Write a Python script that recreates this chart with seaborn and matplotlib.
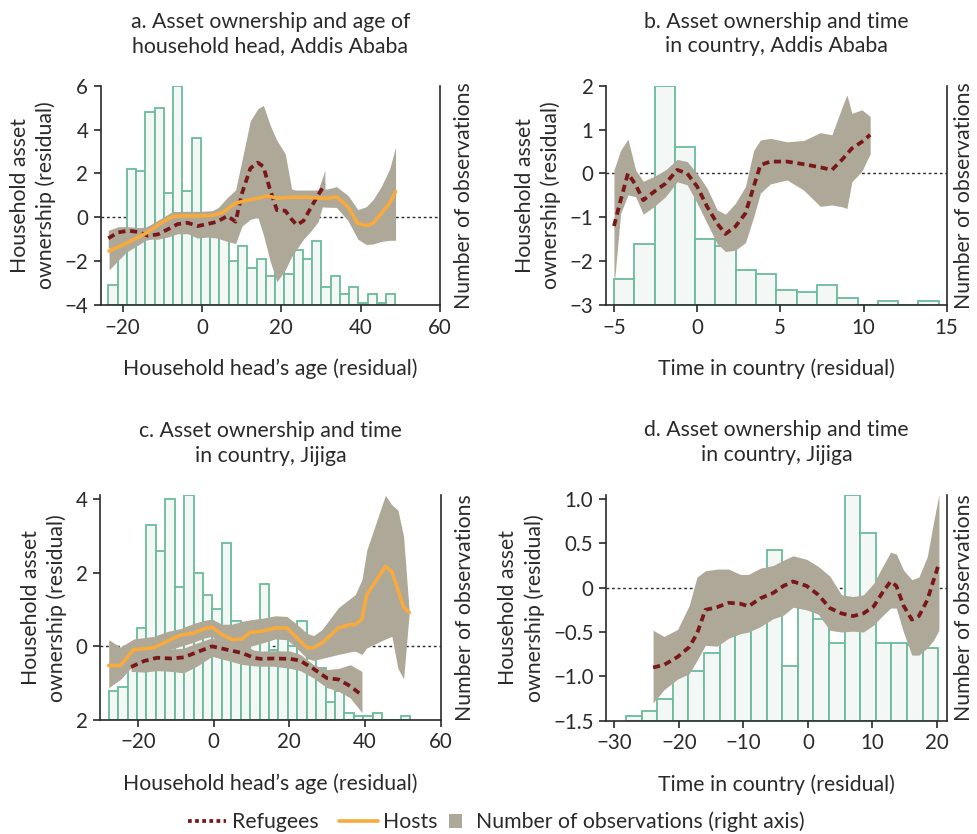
import numpy as np
import pandas as pd
import matplotlib
matplotlib.use("Agg")
import matplotlib.pyplot as plt
from matplotlib.lines import Line2D
from matplotlib.patches import Patch
import seaborn as sns

# ---------------------------------------------------------------- data
# a. Addis Ababa, household head's age
hist_a_start, hist_a_width = -23.6, 2.335
hist_a_counts = [9, 28, 62, 61, 88, 90, 51, 100, 52, 76, 35, 33, 31, 20, 27, 17,
                 21, 13, 18, 14, 25, 21, 29, 8, 13, 5, 8, 1, 5, 1, 5]
ref_a_x = [-23.6, -21.1, -18.6, -16.1, -13.6, -11.1, -8.6, -6.1, -3.6, -1.1, 1.4, 3.9,
           6.4, 8.5, 10.1, 12.2, 14.1, 15.5, 17.2, 18.9, 21.0, 22.6, 23.9, 25.6, 27.6,
           29.3, 31.0]
ref_a_y = [-0.96, -0.69, -0.61, -0.67, -0.84, -0.78, -0.55, -0.31, -0.25, -0.40, -0.31,
           -0.20, 0.06, -0.20, 1.09, 2.23, 2.49, 2.31, 1.24, 0.33, 0.30, -0.09, -0.35,
           -0.16, 0.48, 1.02, 1.50]
ref_a_hi = [-0.60, -0.43, -0.43, -0.47, -0.45, -0.30, -0.05, 0.15, 0.20, 0.15, 0.20,
            0.40, 0.90, 1.25, 2.60, 4.40, 4.95, 5.10, 4.20, 3.50, 2.90, 1.30, 1.20,
            1.20, 1.20, 1.25, 2.15]
ref_a_lo = [-1.40, -1.10, -0.95, -0.95, -1.00, -1.00, -0.90, -0.75, -0.75, -0.95, -0.90,
            -0.95, -1.10, -1.20, -0.40, -0.10, 0.00, -0.80, -2.00, -2.94, -2.40, -1.80,
            -1.45, -1.00, -0.60, -0.20, 0.90]
host_a_x = [-23.4, -19.1, -14.1, -10.7, -7.4, -4.0, -0.7, 2.7, 5.2, 8.5, 11.0, 14.0,
            16.4, 18.9, 22.6, 26.0, 29.3, 31.8, 33.9, 36.8, 39.3, 41.4, 43.1, 45.2,
            47.3, 48.8]
host_a_y = [-1.54, -1.19, -0.73, -0.31, 0.03, 0.07, 0.06, 0.09, 0.21, 0.64, 0.76, 0.86,
            0.97, 0.88, 0.91, 0.92, 0.88, 0.86, 0.94, 0.48, -0.28, -0.38, -0.28, 0.18,
            0.64, 1.17]
host_a_hi = [-0.75, -0.55, -0.45, -0.10, 0.26, 0.27, 0.27, 0.30, 0.55, 1.05, 1.20, 1.28,
             1.28, 1.24, 1.24, 1.24, 1.24, 1.30, 1.40, 1.00, 0.35, 0.48, 0.80, 1.40,
             2.20, 3.20]
host_a_lo = [-2.40, -1.60, -1.05, -0.88, -0.70, -0.66, -0.80, -0.85, -0.70, -0.40,
             -0.20, 0.25, 0.48, 0.48, 0.48, 0.48, 0.48, 0.46, 0.45, -0.15, -1.00, -1.24,
             -1.22, -1.10, -1.05, -1.05]

# b. Addis Ababa, time in country
hist_b_start, hist_b_width = -5.0, 1.22
hist_b_counts = [12, 28, 100, 72, 30, 27, 16, 14, 7, 6, 9, 3, 0, 2, 0, 2]
ref_b_x = [-5.0, -4.6, -4.16, -3.7, -3.24, -2.6, -1.9, -1.2, -0.6, 0.0, 0.6, 1.2, 1.7,
           2.3, 2.9, 3.4, 3.8, 4.4, 5.4, 6.4, 7.4, 8.1, 8.7, 9.0, 9.3, 9.9, 10.4]
ref_b_y = [-1.20, -0.61, 0.00, -0.26, -0.61, -0.42, -0.23, 0.08, 0.00, -0.30, -0.76,
           -1.14, -1.38, -1.21, -0.91, -0.30, 0.19, 0.27, 0.27, 0.21, 0.14, 0.08, 0.31,
           0.44, 0.57, 0.72, 0.88]
ref_b_hi = [0.08, 0.53, 0.78, 0.08, -0.18, -0.07, 0.08, 0.32, 0.27, 0.00, -0.34, -0.83,
            -0.93, -0.68, -0.30, 0.53, 0.76, 0.80, 0.72, 0.75, 0.93, 0.88, 1.50, 1.79,
            1.37, 1.45, 1.30]
ref_b_lo = [-2.58, -0.91, -0.49, -0.53, -0.93, -0.76, -0.53, -0.19, -0.26, -0.68, -1.14,
            -1.60, -1.78, -1.75, -1.58, -0.99, -0.45, -0.24, -0.15, -0.38, -0.75, -0.72,
            -0.76, -0.80, -0.19, 0.05, 0.45]

# c. Jijiga, household head's age
hist_c_start, hist_c_width = -27.7, 2.49
hist_c_counts = [8, 9, 18, 25, 53, 46, 60, 36, 61, 40, 34, 30, 48, 27, 23, 21, 37, 19,
                 23, 20, 27, 17, 14, 5, 8, 2, 1, 1, 2, 0, 0, 1]
ref_c_x = [-21.8, -18.4, -14.9, -11.4, -7.9, -4.4, -0.4, 3.5, 7.5, 10.6, 12.4, 15.9,
           20.3, 22.9, 26.4, 29.9, 33.0, 36.1, 39.2]
ref_c_y = [-0.56, -0.40, -0.31, -0.33, -0.30, -0.16, 0.00, -0.09, -0.18, -0.31, -0.34,
           -0.33, -0.34, -0.39, -0.61, -0.86, -0.90, -1.08, -1.33]
ref_c_hi = [-0.22, -0.13, -0.10, -0.08, -0.05, 0.09, 0.23, 0.14, 0.05, -0.10, -0.13,
            -0.12, -0.13, -0.22, -0.50, -0.63, -0.60, -0.50, -0.68]
ref_c_lo = [-0.68, -0.70, -0.66, -0.68, -0.72, -0.54, -0.27, -0.38, -0.49, -0.53, -0.54,
            -0.54, -0.60, -0.66, -0.86, -1.12, -1.22, -1.40, -1.80]
host_c_x = [-27.7, -24.6, -21.1, -15.8, -12.3, -8.8, -5.3, -2.6, -0.4, 2.2, 4.9, 7.5,
            9.7, 12.8, 16.3, 19.4, 22.0, 24.7, 26.4, 28.6, 33.0, 36.1, 37.4, 39.2, 40.5,
            45.4, 47.1, 48.7, 50.2, 51.7]
host_c_y = [-0.52, -0.52, -0.09, -0.04, 0.14, 0.30, 0.36, 0.47, 0.52, 0.32, 0.18, 0.20,
            0.38, 0.41, 0.50, 0.50, 0.23, -0.04, -0.04, 0.09, 0.50, 0.59, 0.59, 0.74,
            1.40, 2.17, 2.03, 1.54, 1.06, 0.92]
host_c_hi = [0.18, -0.02, 0.20, 0.27, 0.40, 0.48, 0.62, 0.70, 0.74, 0.60, 0.60, 0.68,
             0.72, 0.76, 0.83, 0.81, 0.60, 0.35, 0.29, 0.45, 1.05, 1.30, 1.40, 1.81,
             2.62, 4.10, 3.84, 3.70, 2.98, 0.92]
host_c_lo = [-1.12, -0.90, -0.50, -0.25, -0.12, 0.00, 0.11, 0.22, 0.27, 0.05, -0.05,
             -0.16, 0.00, 0.09, 0.20, 0.18, -0.05, -0.33, -0.38, -0.33, -0.22, -0.15,
             -0.13, -0.22, -0.04, 0.20, 0.27, -0.60, -0.88, 0.92]

# d. Jijiga, time in country
hist_d_start, hist_d_width = -28.2, 2.42
hist_d_counts = [5, 11, 25, 53, 56, 76, 95, 105, 120, 192, 62, 140, 115, 88, 255, 212,
                 88, 88, 85, 82]
ref_d_x = [-24.0, -22.3, -20.2, -18.4, -17.2, -15.9, -14.1, -12.3, -10.5, -9.2, -7.4,
           -5.4, -3.8, -2.3, -0.2, 1.6, 3.4, 5.2, 7.0, 8.6, 10.2, 11.5, 12.8, 13.7, 14.8,
           16.1, 17.2, 18.5, 19.5, 20.3]
ref_d_y = [-0.90, -0.87, -0.78, -0.67, -0.52, -0.25, -0.22, -0.17, -0.18, -0.21, -0.12,
           -0.06, 0.02, 0.07, 0.02, -0.08, -0.23, -0.29, -0.32, -0.29, -0.21, -0.06,
           0.07, 0.02, -0.20, -0.36, -0.32, -0.14, 0.09, 0.27]
ref_d_hi = [-0.48, -0.55, -0.47, -0.20, 0.12, 0.19, 0.21, 0.21, 0.15, 0.15, 0.22, 0.25,
            0.31, 0.36, 0.32, 0.24, 0.13, -0.08, -0.10, -0.08, 0.05, 0.23, 0.40, 0.38,
            0.20, 0.09, 0.12, 0.35, 0.75, 1.05]
ref_d_lo = [-1.30, -1.15, -1.03, -0.97, -0.82, -0.65, -0.66, -0.57, -0.52, -0.50, -0.44,
            -0.35, -0.31, -0.22, -0.25, -0.30, -0.48, -0.50, -0.49, -0.50, -0.42, -0.32,
            -0.23, -0.23, -0.50, -0.76, -0.76, -0.68, -0.59, -0.48]

titles = ["a. Asset ownership and age of\nhousehold head, Addis Ababa",
          "b. Asset ownership and time\nin country, Addis Ababa",
          "c. Asset ownership and time\nin country, Jijiga",
          "d. Asset ownership and time\nin country, Jijiga"]
age_label = "Household head\u2019s age (residual)"
time_label = "Time in country (residual)"
y_label = "Household asset\nownership (residual)"
count_label = "Number of observations"
legend_labels = ["Refugees", "Hosts", "Number of observations (right axis)"]

yticklabels_c = ["2", "0", "2", "4"]
yticklabels_d = ["\u22121.5", "\u22121.0", "\u22120.5", "0", "0.5", "1.0"]

# ---------------------------------------------------------------- style
sns.set_style("ticks")
plt.rcParams["font.family"] = ["Lato", "DejaVu Sans"]
INK = "#2a2a2a"
plt.rcParams.update({
    "text.color": INK, "axes.labelcolor": INK,
    "xtick.color": INK, "ytick.color": INK,
    "axes.edgecolor": INK,
})
REF = "#7a1719"
HOST = "#f8ab3c"
BAND = "#aea898"
BAR_EDGE = "#6bbb9c"
BAR_FACE = "#f3f7f6"
FS_LABEL = 15.3
FS_TICK = 14.8

fig = plt.figure(figsize=(9.78, 8.34), dpi=100)
W, H = 978.0, 834.0


def rect(l, t, r, b):
    return [l / W, 1 - b / H, (r - l) / W, (b - t) / H]


def draw_panel(box, title, xlabel, xlim, xticks, ylim, yticks, yticklabels,
               h_start, h_width, h_counts, count_top, series, right_pad=10):
    ax = fig.add_axes(box)
    axc = ax.twinx()
    axl = fig.add_axes(box, sharex=ax, sharey=ax)
    ax.set_zorder(0)
    axc.set_zorder(1)
    axl.set_zorder(2)
    axl.patch.set_visible(False)

    # zero reference under the histogram
    ax.axhline(0, color=INK, lw=1.0, ls=(0, (2, 2)), zorder=0)

    # histogram of observations on the right axis
    n = len(h_counts)
    hist_df = pd.DataFrame({"bin": h_start + h_width * (np.arange(n) + 0.5),
                            "n": h_counts})
    sns.histplot(data=hist_df, x="bin", weights="n", binwidth=h_width,
                 binrange=(h_start, h_start + n * h_width), ax=axc,
                 facecolor=BAR_FACE, edgecolor=BAR_EDGE, linewidth=1.3, alpha=1)
    axc.set_ylim(0, count_top)
    axc.set_ylabel(count_label, fontsize=FS_LABEL, labelpad=right_pad)
    axc.tick_params(right=False, labelright=False)
    axc.spines["top"].set_visible(False)
    for s in ["left", "bottom", "right"]:
        axc.spines[s].set_linewidth(1.2)
        axc.spines[s].set_color(INK)

    # confidence bands then smoothed lines
    for kind, x, y, lo, hi in series:
        axl.fill_between(x, lo, hi, color=BAND, lw=0)
    for kind, x, y, lo, hi in series:
        if kind == "ref":
            sns.lineplot(x=x, y=y, ax=axl, color=REF, linewidth=2.7,
                         linestyle=(0, (1.9, 1.25)))
        else:
            sns.lineplot(x=x, y=y, ax=axl, color=HOST, linewidth=2.6)
    axl.axis("off")

    for s in ax.spines.values():
        s.set_visible(False)
    ax.set_xlim(*xlim)
    ax.set_ylim(*ylim)
    ax.set_xticks(xticks)
    ax.set_yticks(yticks)
    if yticklabels is not None:
        ax.set_yticklabels(yticklabels)
    ax.tick_params(direction="out", length=5, width=1.2, labelsize=FS_TICK, pad=4)
    ax.set_xlabel(xlabel, fontsize=FS_LABEL, labelpad=15)
    ax.set_ylabel(y_label, fontsize=FS_LABEL, labelpad=6, linespacing=1.35)
    ax.set_title(title, fontsize=FS_LABEL, pad=24, linespacing=1.3)
    return ax


draw_panel(rect(100.7, 85.7, 440.0, 305.0), titles[0], age_label,
           (-25.5, 60), [-20, 0, 20, 40, 60], (-4, 6), [-4, -2, 0, 2, 4, 6], None,
           hist_a_start, hist_a_width, hist_a_counts, 100,
           [("ref", ref_a_x, ref_a_y, ref_a_lo, ref_a_hi),
            ("host", host_a_x, host_a_y, host_a_lo, host_a_hi)])

draw_panel(rect(606.0, 85.7, 946.7, 305.0), titles[1], time_label,
           (-5.48, 15), [-5, 0, 5, 10, 15], (-3, 2), [-3, -2, -1, 0, 1, 2], None,
           hist_b_start, hist_b_width, hist_b_counts, 100,
           [("ref", ref_b_x, ref_b_y, ref_b_lo, ref_b_hi)], right_pad=5)

draw_panel(rect(100.0, 495.3, 440.7, 720.0), titles[2], age_label,
           (-30, 60), [-20, 0, 20, 40, 60], (-2, 4.1), [-2, 0, 2, 4], yticklabels_c,
           hist_c_start, hist_c_width, hist_c_counts, 61,
           [("host", host_c_x, host_c_y, host_c_lo, host_c_hi),
            ("ref", ref_c_x, ref_c_y, ref_c_lo, ref_c_hi)])

draw_panel(rect(606.0, 494.6, 947.3, 720.7), titles[3], time_label,
           (-31.3, 21.6), [-30, -20, -10, 0, 10, 20], (-1.5, 1.05),
           [-1.5, -1.0, -0.5, 0, 0.5, 1.0], yticklabels_d,
           hist_d_start, hist_d_width, hist_d_counts, 255,
           [("ref", ref_d_x, ref_d_y, ref_d_lo, ref_d_hi)], right_pad=5)

# legend: two line keys, then the band key as a small square
legend_y = 1 - 822 / H
line_handles = [Line2D([], [], color=REF, lw=2.7, ls=(0, (1.0, 0.9))),
                Line2D([], [], color=HOST, lw=2.6)]
fig.legend(line_handles, legend_labels[:2], loc="center left",
           bbox_to_anchor=(188 / W, legend_y), ncol=2, frameon=False,
           fontsize=FS_LABEL, handlelength=1.8, handletextpad=0.25,
           columnspacing=1.0, borderpad=0, borderaxespad=0)
fig.legend([Patch(facecolor=BAND, edgecolor="none")], legend_labels[2:],
           loc="center left", bbox_to_anchor=(449 / W, legend_y), frameon=False,
           fontsize=FS_LABEL, handlelength=0.62, handleheight=0.62,
           handletextpad=0.65, borderpad=0, borderaxespad=0)

fig.savefig("out.png", dpi=100)
